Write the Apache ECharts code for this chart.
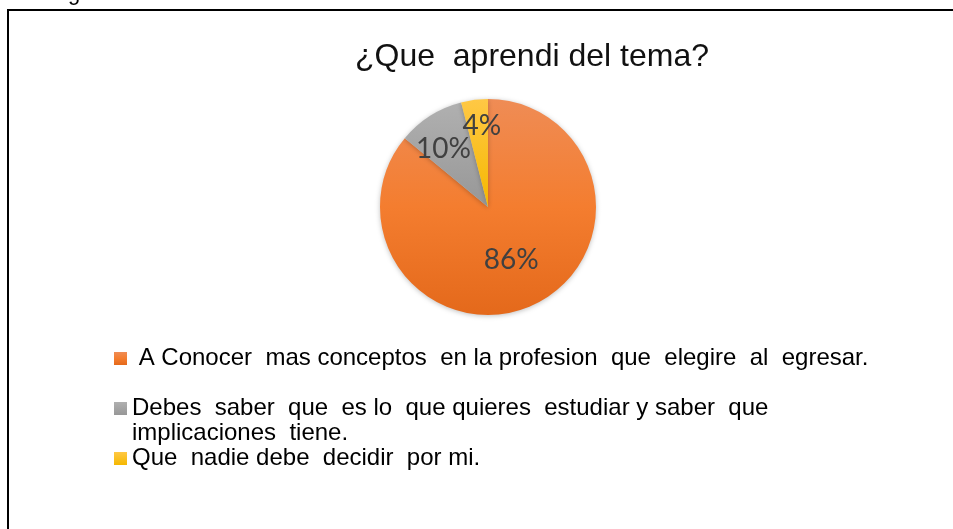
<!DOCTYPE html>
<html>
<head>
<meta charset="utf-8">
<script src="https://cdn.jsdelivr.net/npm/echarts@6/dist/echarts.min.js"></script>
<style>
  html, body { margin: 0; padding: 0; background: #fff; }
  #chart { width: 953px; height: 529px; }
</style>
</head>
<body>
<div id="chart"></div>
<script>
// datos del grafico
const TITLE = '¿Que  aprendi del tema?'
const CATEGORIES = [
  ' A Conocer  mas conceptos  en la profesion  que  elegire  al  egresar.',
  'Debes  saber  que  es lo  que quieres  estudiar y saber  que\nimplicaciones  tiene.',
  'Que  nadie debe  decidir  por mi.'
]
const VALUES = [86, 10, 4]

// colores tipo Office con degradado vertical
const COLOR_STOPS = [
  [{ offset: 0, color: '#EF8C55' }, { offset: 0.5, color: '#F47D2F' }, { offset: 1, color: '#E4691B' }],
  [{ offset: 0, color: '#B0B0B0' }, { offset: 1, color: '#979797' }],
  [{ offset: 0, color: '#FFC845' }, { offset: 1, color: '#F5B800' }]
]
const LABEL_OFFSETS = [[-1, 1], [-14, -10], [1, -24]]

const chart = echarts.init(document.getElementById('chart'))

const grad = stops => ({ type: 'linear', x: 0, y: 0, x2: 0, y2: 1, colorStops: stops })

const option = {
  backgroundColor: '#fff',
  animation: false,
  title: {
    text: TITLE,
    left: 355,
    top: 41,
    padding: 0,
    textStyle: {
      fontFamily: 'Liberation Sans, Arial, sans-serif',
      fontSize: 32,
      fontWeight: 'normal',
      color: '#111'
    }
  },
  legend: {
    orient: 'vertical',
    left: 114,
    top: 346,
    padding: 0,
    itemGap: 0,
    itemWidth: 13,
    itemHeight: 13,
    icon: 'rect',
    selectedMode: false,
    data: CATEGORIES,
    formatter: name => (name.indexOf('\n') >= 0 ? '\n' + name : name),
    textStyle: {
      fontFamily: 'Liberation Sans, Arial, sans-serif',
      fontSize: 24,
      lineHeight: 25,
      color: '#000'
    }
  },
  graphic: [
    {
      type: 'rect',
      z: -1,
      shape: { x: 8, y: 10, width: 1000, height: 600 },
      style: { fill: 'none', stroke: '#000', lineWidth: 2 }
    },
    {
      type: 'text',
      x: 68,
      y: 5,
      style: {
        text: 'g',
        font: '22px Liberation Sans',
        fill: '#000',
        verticalAlign: 'bottom'
      }
    }
  ],
  series: [
    {
      type: 'pie',
      center: [488, 207],
      radius: 108,
      startAngle: 90,
      clockwise: true,
      avoidLabelOverlap: false,
      labelLayout: { hideOverlap: false },
      itemStyle: {
        borderWidth: 0,
        shadowBlur: 5,
        shadowColor: 'rgba(0,0,0,0.25)',
        shadowOffsetY: 1
      },
      label: {
        show: true,
        position: 'inside',
        formatter: '{d}%',
        fontFamily: 'Lato, Open Sans, sans-serif',
        fontSize: 28,
        color: '#404040'
      },
      labelLine: { show: false },
      emphasis: { disabled: true },
      data: CATEGORIES.map((name, i) => ({
        name,
        value: VALUES[i],
        itemStyle: { color: grad(COLOR_STOPS[i]) },
        label: { offset: LABEL_OFFSETS[i] }
      }))
    }
  ]
}

chart.setOption(option)
</script>
</body>
</html>
